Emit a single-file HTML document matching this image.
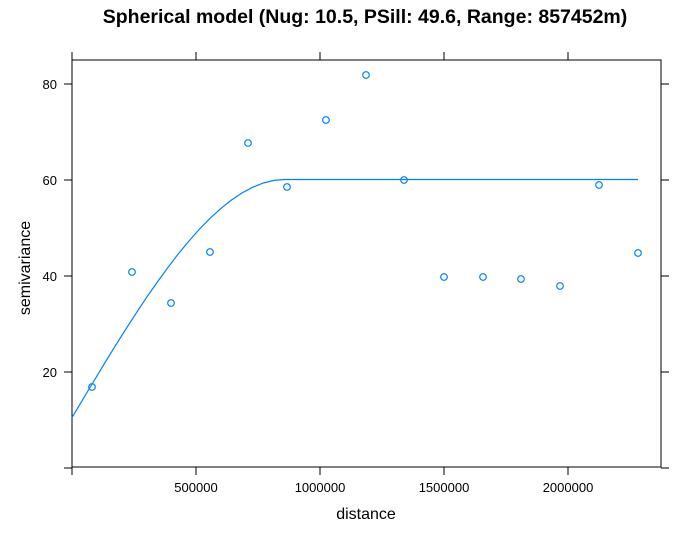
<!DOCTYPE html>
<html><head><style>body{margin:0;background:#fff}</style></head><body>
<svg width="700" height="543" xmlns="http://www.w3.org/2000/svg" font-family="Liberation Sans, Arial, sans-serif">
<rect width="700" height="543" fill="#fff"/>
<text x="365" y="23" text-anchor="middle" font-size="19.5" font-weight="bold">Spherical model (Nug: 10.5, PSill: 49.6, Range: 857452m)</text>
<rect x="72" y="60" width="589" height="407" fill="none" stroke="#000" stroke-width="1"/>
<g stroke="#000" stroke-width="1">
<line x1="72" y1="467" x2="72" y2="475"/><line x1="196" y1="467" x2="196" y2="475"/><line x1="320" y1="467" x2="320" y2="475"/><line x1="444" y1="467" x2="444" y2="475"/><line x1="568" y1="467" x2="568" y2="475"/>
<line x1="72" y1="60" x2="72" y2="52"/><line x1="196" y1="60" x2="196" y2="52"/><line x1="320" y1="60" x2="320" y2="52"/><line x1="444" y1="60" x2="444" y2="52"/><line x1="568" y1="60" x2="568" y2="52"/>
<line x1="64" y1="468" x2="72" y2="468"/><line x1="64" y1="372" x2="72" y2="372"/><line x1="64" y1="276" x2="72" y2="276"/><line x1="64" y1="180" x2="72" y2="180"/><line x1="64" y1="84" x2="72" y2="84"/>
<line x1="661" y1="468" x2="669" y2="468"/><line x1="661" y1="372" x2="669" y2="372"/><line x1="661" y1="276" x2="669" y2="276"/><line x1="661" y1="180" x2="669" y2="180"/><line x1="661" y1="84" x2="669" y2="84"/>
</g>
<g font-size="13" text-anchor="middle">
<text x="196" y="492">500000</text><text x="320" y="492">1000000</text><text x="444" y="492">1500000</text><text x="568" y="492">2000000</text>
</g>
<g font-size="13" text-anchor="end">
<text x="57" y="377">20</text><text x="57" y="281">40</text><text x="57" y="185">60</text><text x="57" y="89">80</text>
</g>
<text x="366" y="519" text-anchor="middle" font-size="16">distance</text>
<text x="0" y="0" transform="translate(30,268) rotate(-90)" text-anchor="middle" font-size="16">semivariance</text>
<path d="M72,417.6 L82.6,399.8 L93.3,382 L103.9,364.4 L114.5,347.1 L125.2,330.2 L135.8,313.7 L146.4,297.7 L157.1,282.4 L167.7,267.8 L178.3,253.9 L189,241 L199.6,229 L210.2,218.2 L220.9,208.4 L231.5,200 L242.1,192.9 L252.8,187.2 L263.4,183 L274,180.4 L284.65,179.5 L638,179.5" fill="none" stroke="#0080ff" stroke-width="1.2"/>
<g fill="none" stroke="#0080ff" stroke-width="1.2">
<circle cx="92" cy="387" r="3.3"/><circle cx="132" cy="272" r="3.3"/><circle cx="171" cy="303" r="3.3"/><circle cx="210" cy="252" r="3.3"/><circle cx="248" cy="143" r="3.3"/><circle cx="287" cy="187" r="3.3"/><circle cx="326" cy="120" r="3.3"/><circle cx="366" cy="75" r="3.3"/><circle cx="404" cy="180" r="3.3"/><circle cx="444" cy="277" r="3.3"/><circle cx="483" cy="277" r="3.3"/><circle cx="521" cy="279" r="3.3"/><circle cx="560" cy="286" r="3.3"/><circle cx="599" cy="185" r="3.3"/><circle cx="638" cy="253" r="3.3"/>
</g>
</svg>
</body></html>
